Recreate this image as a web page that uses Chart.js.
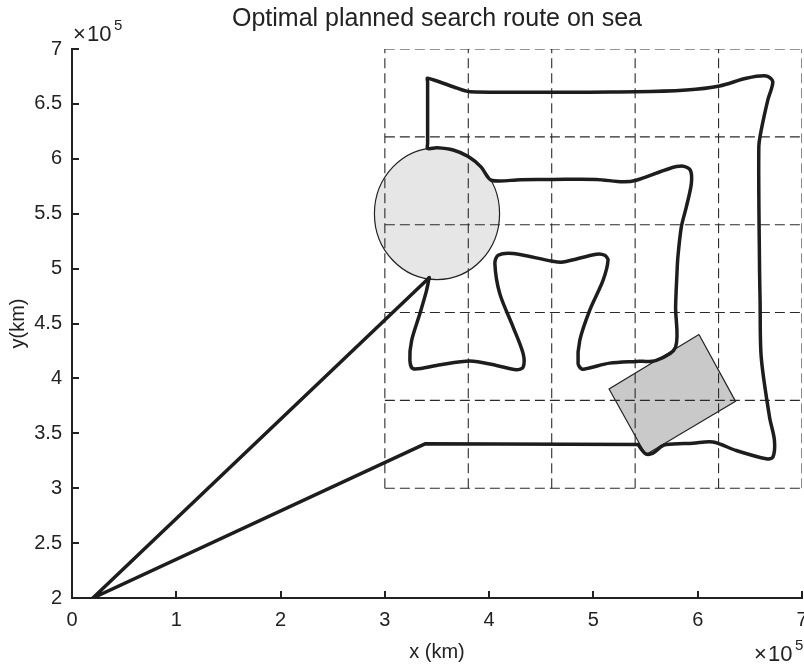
<!DOCTYPE html>
<html>
<head>
<meta charset="utf-8">
<script src="https://cdn.jsdelivr.net/npm/chart.js@4.4.0/dist/chart.umd.min.js"></script>
<style>
  html, body { margin: 0; padding: 0; background: #fff; }
  #wrap { width: 804px; height: 665px; }
</style>
</head>
<body>
<div id="wrap"><canvas id="myChart" width="804" height="665"></canvas></div>
<script>
// all coordinates in units of 10^5 km
const UNIT = 1e5;

const xTickValues = [0, 1, 2, 3, 4, 5, 6, 7];
const yTickValues = [2, 2.5, 3, 3.5, 4, 4.5, 5, 5.5, 6, 6.5, 7];

// dashed search cells
const gridX = [3, 3.8, 4.6, 5.4, 6.2, 7];
const gridY = [3, 3.8, 4.6, 5.4, 6.2, 7];

// round obstacle
const circleCenter = [3.5, 5.5];
const circleRadius = 0.6;

// rotated rectangle obstacle
const rectX = [6.012, 6.363, 5.501, 5.150, 6.012];
const rectY = [4.400, 3.791, 3.305, 3.904, 4.400];

// straight legs from the base
const transitX = [3.425, 0.20, 3.385, 5.427];
const transitY = [4.917, 2.00, 3.404, 3.398];

// search loop
const searchX = [5.427, 5.501, 5.571, 5.651, 5.699, 5.954, 6.146, 6.370, 6.657, 6.720,
  6.736, 6.689, 6.609, 6.598, 6.593, 6.586, 6.609, 6.672, 6.720, 6.657,
  6.466, 6.210, 5.891, 5.412, 3.815, 3.655, 3.410, 3.410, 3.410, 3.410,
  3.500, 3.655, 3.800, 3.924, 4.020, 4.300, 4.613, 5.029, 5.284, 5.412,
  5.730, 5.858, 5.929, 5.939, 5.891, 5.843, 5.810, 5.801, 5.788, 5.788,
  5.603, 5.412, 5.156, 4.960, 4.890, 4.853, 4.869, 4.964, 5.092, 5.140,
  5.108, 5.029, 4.709, 4.598, 4.230, 4.086, 4.055, 4.102, 4.230, 4.326,
  4.326, 4.262, 4.071, 3.815, 3.496, 3.272, 3.240, 3.257, 3.336, 3.400,
  3.425];
const searchY = [3.398, 3.313, 3.319, 3.380, 3.398, 3.410, 3.420, 3.343, 3.268, 3.282,
  3.434, 3.647, 4.194, 4.711, 4.985, 6.109, 6.261, 6.535, 6.702, 6.754,
  6.733, 6.663, 6.626, 6.611, 6.611, 6.656, 6.733, 6.700, 6.140, 6.094,
  6.100, 6.080, 6.020, 5.924, 5.805, 5.810, 5.812, 5.812, 5.790, 5.805,
  5.912, 5.933, 5.897, 5.775, 5.562, 5.380, 5.106, 4.955, 4.650, 4.285,
  4.165, 4.155, 4.139, 4.095, 4.085, 4.134, 4.346, 4.620, 4.893, 5.076,
  5.121, 5.131, 5.060, 5.069, 5.137, 5.121, 5.046, 4.772, 4.468, 4.225,
  4.103, 4.079, 4.118, 4.158, 4.118, 4.088, 4.164, 4.346, 4.590, 4.802,
  4.917];

const FONT = "'Liberation Sans', Arial, Helvetica, sans-serif";
const INK = '#222222';
const TITLE = 'Optimal planned search route on sea';

function toPoints(xs, ys) {
    return xs.map(function(x, i) { return { x: x * UNIT, y: ys[i] * UNIT }; });
}

let datasets = [];

datasets.push({
    data: toPoints(searchX, searchY),
    showLine: true, borderColor: '#1d1d1d', borderWidth: 3.5, pointRadius: 0,
    tension: 0.3, borderJoinStyle: 'round', borderCapStyle: 'round', order: 0
});
datasets.push({
    data: toPoints(transitX, transitY),
    showLine: true, borderColor: '#1d1d1d', borderWidth: 3.5, pointRadius: 0,
    tension: 0, borderJoinStyle: 'round', borderCapStyle: 'round', order: 0
});

gridX.forEach(function(gx) {
    datasets.push({
        data: toPoints([gx, gx], [gridY[0], gridY[gridY.length - 1]]),
        showLine: true, borderColor: '#2a2a2a', borderWidth: 1.1, borderDash: [10, 5],
        pointRadius: 0, order: 2
    });
});
gridY.forEach(function(gy) {
    datasets.push({
        data: toPoints([gridX[0], gridX[gridX.length - 1]], [gy, gy]),
        showLine: true, borderColor: '#2a2a2a', borderWidth: 1.1, borderDash: [10, 5],
        pointRadius: 0, order: 2
    });
});

datasets.push({
    data: toPoints(rectX, rectY),
    showLine: true, borderColor: INK, borderWidth: 1.2, pointRadius: 0,
    fill: 'shape', backgroundColor: '#c9c9c9', order: 3
});

// circle under the datasets, inward ticks, title and exponents on top
const decor = {
    id: 'decor',
    beforeDatasetsDraw(chart) {
        const ctx = chart.ctx, xs = chart.scales.x, ys = chart.scales.y;
        const cx = xs.getPixelForValue(circleCenter[0] * UNIT);
        const cy = ys.getPixelForValue(circleCenter[1] * UNIT);
        const rx = Math.abs(xs.getPixelForValue((circleCenter[0] + circleRadius) * UNIT) - cx);
        const ry = Math.abs(ys.getPixelForValue((circleCenter[1] + circleRadius) * UNIT) - cy);
        ctx.save();
        ctx.beginPath();
        ctx.ellipse(cx, cy, rx, ry, 0, 0, Math.PI * 2);
        ctx.fillStyle = '#e6e6e6';
        ctx.fill();
        ctx.lineWidth = 1.2;
        ctx.strokeStyle = INK;
        ctx.stroke();
        ctx.restore();
    },
    afterDraw(chart) {
        const ctx = chart.ctx, area = chart.chartArea, xs = chart.scales.x, ys = chart.scales.y;
        ctx.save();
        ctx.strokeStyle = INK;
        ctx.lineWidth = 2;
        xs.ticks.forEach(function(t) {
            const px = Math.round(xs.getPixelForValue(t.value));
            ctx.beginPath();
            ctx.moveTo(px, area.bottom);
            ctx.lineTo(px, area.bottom - 7);
            ctx.stroke();
        });
        ys.ticks.forEach(function(t) {
            const py = Math.round(ys.getPixelForValue(t.value));
            ctx.beginPath();
            ctx.moveTo(area.left, py);
            ctx.lineTo(area.left + 7, py);
            ctx.stroke();
        });

        ctx.fillStyle = INK;
        ctx.textBaseline = 'middle';
        ctx.textAlign = 'center';
        ctx.font = '25px ' + FONT;
        ctx.fillText(TITLE, (area.left + area.right) / 2, 19);

        // x10^5 multipliers
        ctx.textAlign = 'left';
        function expLabel(left, mid) {
            ctx.font = '22px ' + FONT;
            ctx.fillText('\u00d7', left, mid);
            ctx.fillText('10', left + 14, mid);
            ctx.font = '15px ' + FONT;
            ctx.fillText('5', left + 41, mid - 9);
        }
        expLabel(73, 35);
        expLabel(754, 655);
        ctx.restore();
    }
};

new Chart(document.getElementById('myChart'), {
    type: 'scatter',
    data: { datasets: datasets },
    plugins: [decor],
    options: {
        responsive: false,
        animation: false,
        layout: { padding: { top: 49, right: 2, left: 0, bottom: 0 } },
        plugins: {
            legend: { display: false },
            tooltip: { enabled: false },
            title: { display: false }
        },
        scales: {
            x: {
                type: 'linear', min: 0, max: 7 * UNIT,
                afterBuildTicks: function(scale) {
                    scale.ticks = xTickValues.map(function(v) { return { value: v * UNIT }; });
                },
                afterFit: function(scale) {
                    scale.height = 67;
                    scale.paddingLeft = 0; scale.paddingRight = 0;
                },
                ticks: {
                    color: INK, padding: 10,
                    font: { family: FONT, size: 20 },
                    callback: function(v) { return String(Math.round(v / UNIT * 10) / 10); }
                },
                grid: { display: false, drawTicks: false },
                border: { display: true, color: INK, width: 2 },
                title: {
                    display: true, text: 'x (km)', color: INK,
                    font: { family: FONT, size: 20 },
                    padding: { top: 0, bottom: 1 }
                }
            },
            y: {
                type: 'linear', min: 2 * UNIT, max: 7 * UNIT,
                afterBuildTicks: function(scale) {
                    scale.ticks = yTickValues.map(function(v) { return { value: v * UNIT }; });
                },
                afterFit: function(scale) {
                    scale.width = 72;
                    scale.paddingTop = 0; scale.paddingBottom = 0;
                },
                ticks: {
                    color: INK, padding: 10,
                    font: { family: FONT, size: 20 },
                    callback: function(v) { return String(Math.round(v / UNIT * 10) / 10); }
                },
                grid: { display: false, drawTicks: false },
                border: { display: true, color: INK, width: 2 },
                title: {
                    display: true, text: 'y(km)', color: INK,
                    font: { family: FONT, size: 20 },
                    padding: { top: 6, bottom: 0 }
                }
            }
        }
    }
});
</script>
</body>
</html>
